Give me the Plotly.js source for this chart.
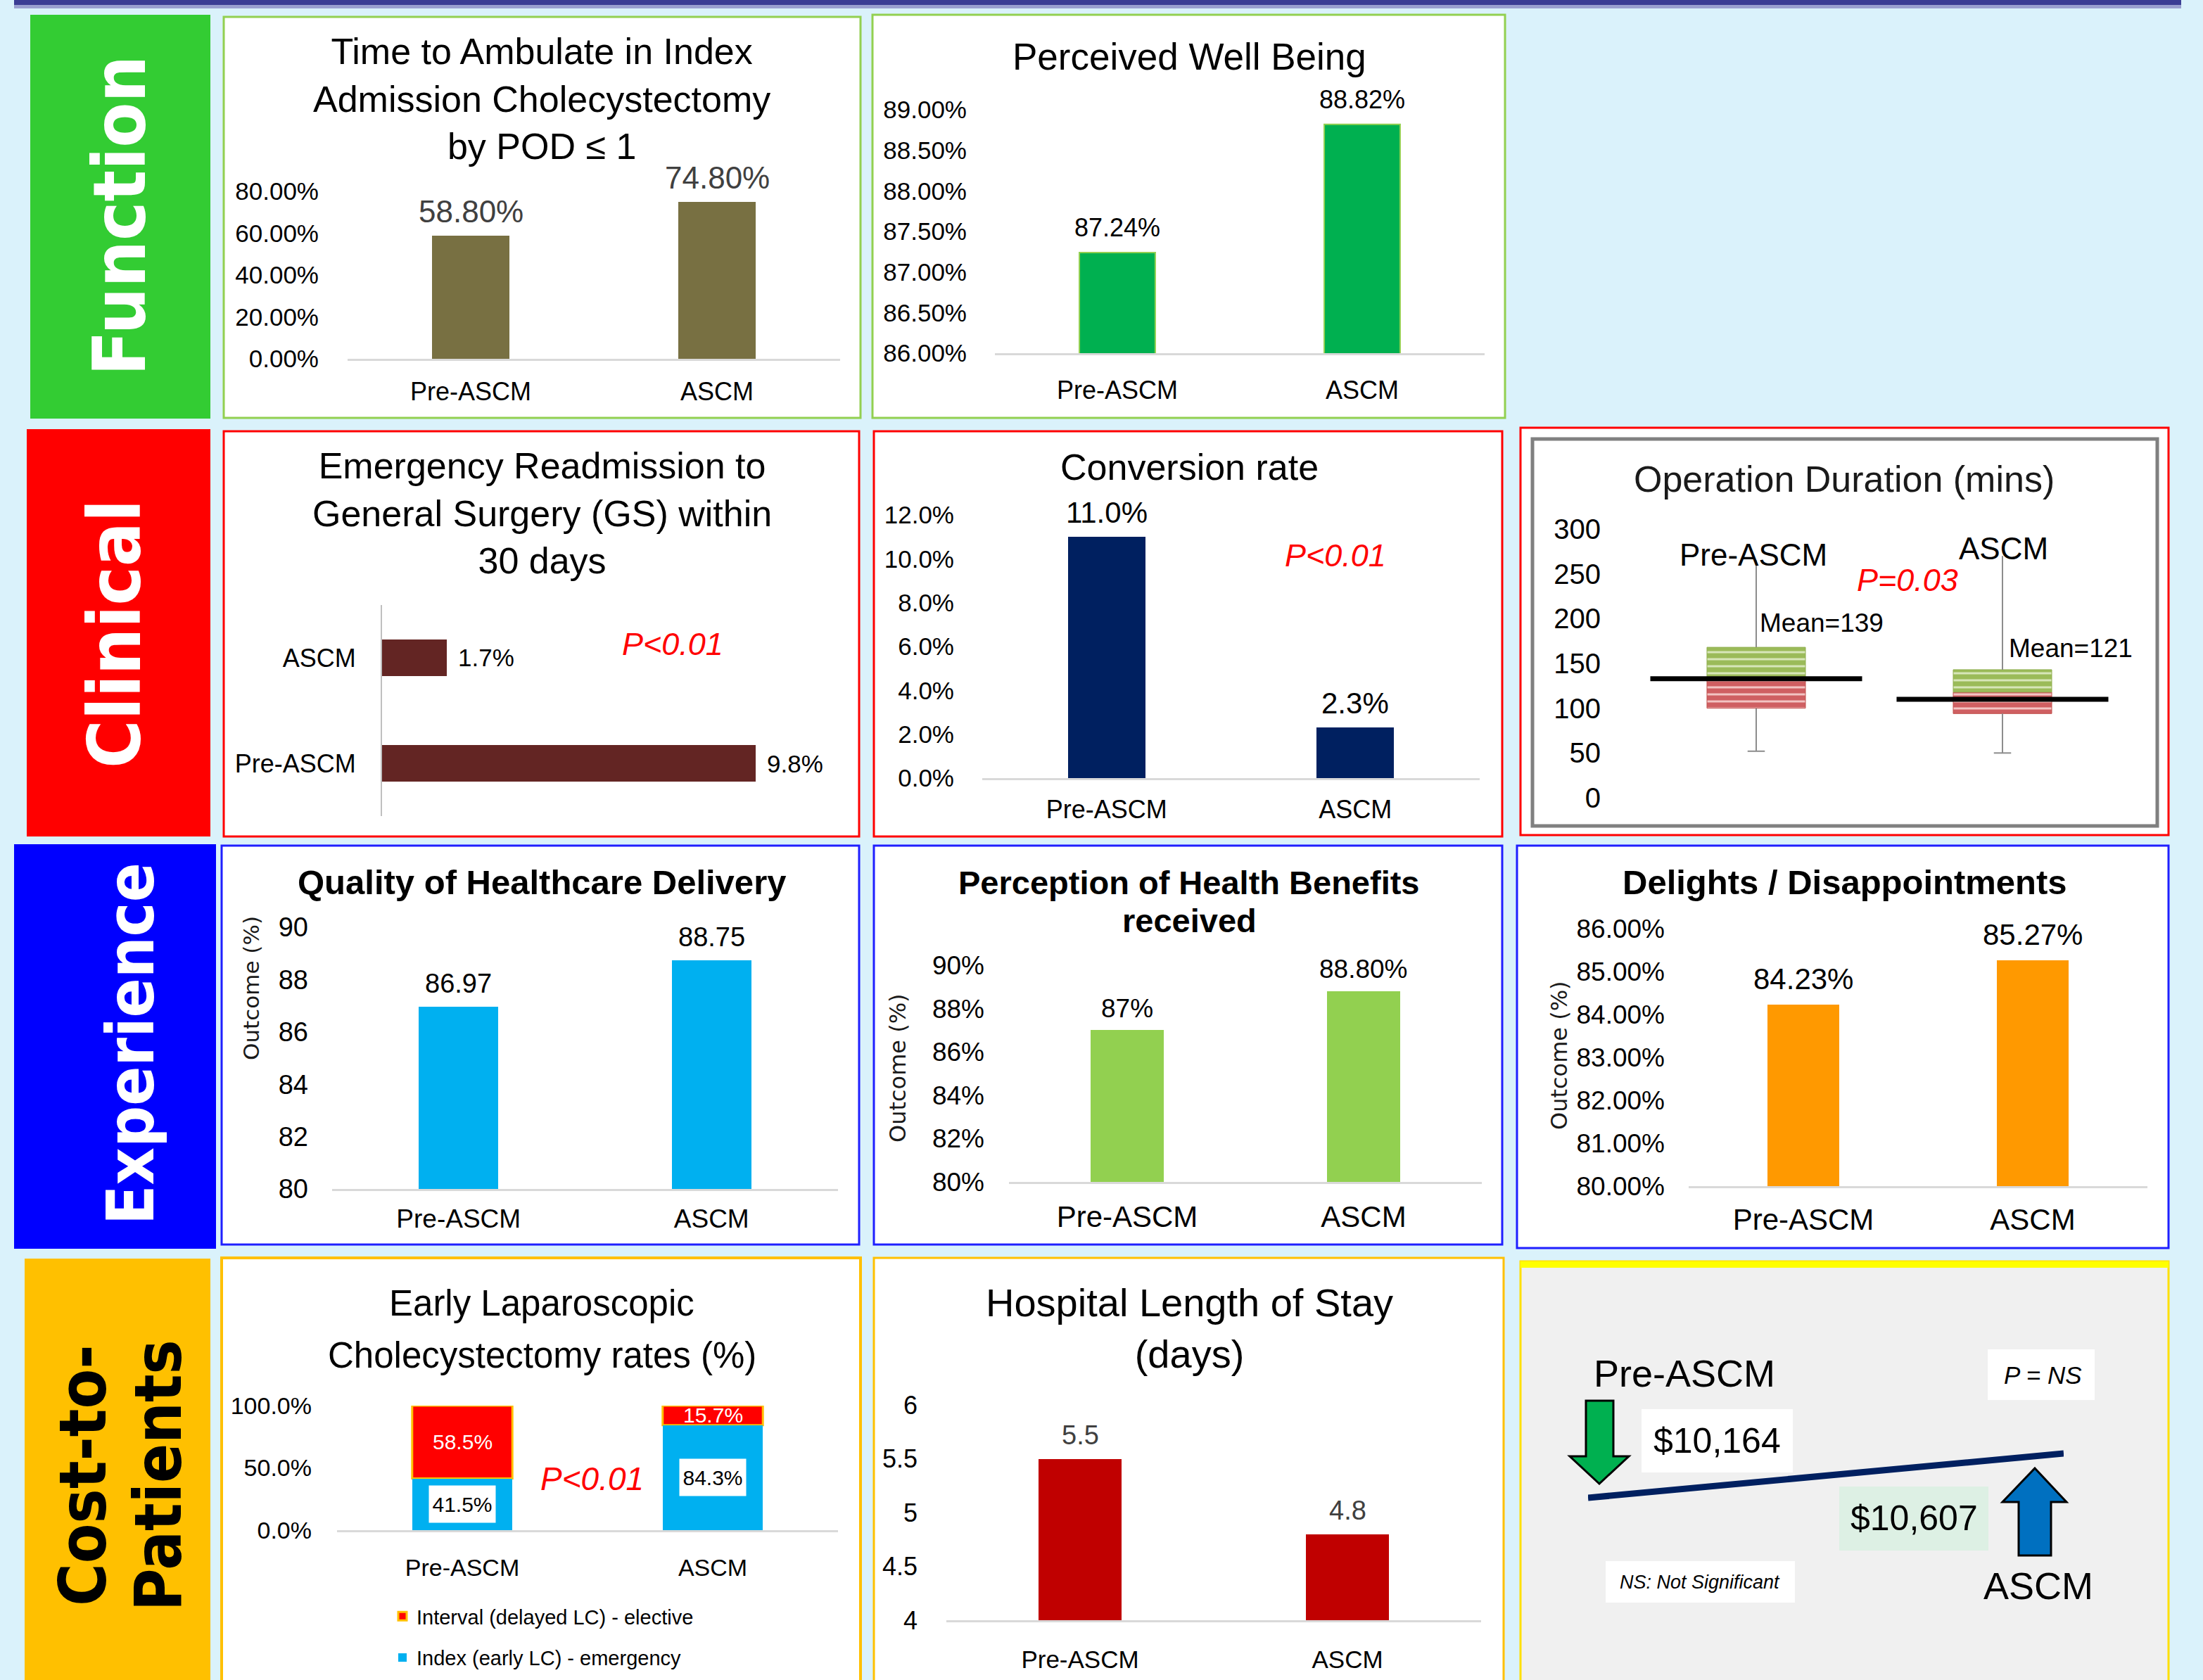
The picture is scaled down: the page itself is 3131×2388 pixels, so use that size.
<!DOCTYPE html>
<html><head><meta charset="utf-8">
<script src="https://cdn.plot.ly/plotly-3.0.1.min.js"></script>
<style>html,body{margin:0;padding:0;background:#daf2fb;} #chart{width:3131px;height:2388px;}</style>
</head><body><div id="chart"></div>
<script>
// ---------------- DATA ----------------
const groups = ['Pre-ASCM', 'ASCM'];
const ambulatePOD1 = [0.588, 0.748];
const ambulateTicks = [0, 0.2, 0.4, 0.6, 0.8];
const wellBeing = [0.8724, 0.8882];
const wellBeingTicks = [0.86, 0.865, 0.87, 0.875, 0.88, 0.885, 0.89];
const readmitGroups = ['Pre-ASCM', 'ASCM'];
const readmission = [0.098, 0.017];
const conversion = [0.110, 0.023];
const conversionTicks = [0, 0.02, 0.04, 0.06, 0.08, 0.10, 0.12];
const opLow = [52, 50];
const opQ1 = [100, 94];
const opSplit = [133, 118];
const opQ3 = [168, 143];
const opHigh = [265, 270];
const opMeanLine = [133, 110];
const opMeanLabel = [139, 121];
const opTicks = [0, 50, 100, 150, 200, 250, 300];
const qualityDelivery = [86.97, 88.75];
const qualityTicks = [80, 82, 84, 86, 88, 90];
const healthBenefits = [0.87, 0.888];
const healthLabels = ['87%', '88.80%'];
const healthTicks = [0.80, 0.82, 0.84, 0.86, 0.88, 0.90];
const delights = [0.8423, 0.8527];
const delightTicks = [0.80, 0.81, 0.82, 0.83, 0.84, 0.85, 0.86];
const indexEarly = [0.415, 0.843];
const intervalDelayed = [0.585, 0.157];
const lapTicks = [0, 0.5, 1.0];
const lengthOfStay = [5.5, 4.8];
const losTicks = [4, 4.5, 5, 5.5, 6];
const costPerPatient = [10164, 10607];
const costLabels = ['$10,164', '$10,607'];

// ---------------- HELPERS ----------------
const W = 3131, H = 2388;
const X = p => p / W, Y = p => 1 - p / H;
const ARIAL = "'Liberation Sans', Arial, sans-serif";
const NARROW = "'Liberation Sans Narrow', 'Arial Narrow', 'Liberation Sans', Arial, sans-serif";
const VERD = "'DejaVu Sans', Verdana, sans-serif";
const VERDC = "'DejaVu Sans Condensed', 'DejaVu Sans', Verdana, sans-serif";
const pct = d => v => (v * 100).toFixed(d) + '%';

const layout = {
  width: W, height: H, margin: {l: 0, r: 0, t: 0, b: 0},
  paper_bgcolor: '#daf2fb', plot_bgcolor: 'rgba(0,0,0,0)',
  barmode: 'overlay', bargap: 0, showlegend: true, hovermode: false,
  font: {family: ARIAL, color: '#000'},
  shapes: [], annotations: [],
  legend: {x: X(552), y: Y(2272), xanchor: 'left', yanchor: 'top', bgcolor: 'rgba(0,0,0,0)',
           font: {family: NARROW, size: 29, color: '#000'}, traceorder: 'grouped', tracegroupgap: 18}
};
const key = n => (n === 1 ? '' : String(n));

function catX(n, l, r, size, family, standoff) {
  layout['xaxis' + key(n)] = {domain: [X(l), X(r)], anchor: 'y' + key(n), type: 'category',
    range: [-0.5, 1.5], showgrid: false, zeroline: false, showline: true, linecolor: '#d9d9d9',
    linewidth: 3, ticks: '', tickfont: {family, size, color: '#000'}, ticklabelstandoff: standoff, fixedrange: true};
}
function valY(n, top, bottom, range, tickvals, tickformat, size, family, standoff, color) {
  layout['yaxis' + key(n)] = {domain: [Y(bottom), Y(top)], anchor: 'x' + key(n), range,
    tickvals, tickformat, showgrid: false, zeroline: false, showline: false, ticks: '',
    tickfont: {family, size, color: color || '#000'}, ticklabelstandoff: standoff, fixedrange: true};
}
function rect(x0, y0, x1, y1, fill, line, lw, layer) {
  layout.shapes.push({type: 'rect', xref: 'paper', yref: 'paper', x0: X(x0), x1: X(x1), y0: Y(y0), y1: Y(y1),
    fillcolor: fill, line: {color: line || 'rgba(0,0,0,0)', width: lw || 0}, layer: layer || 'below'});
}
function poly(pts, fill, line, lw) {
  const d = pts.map((p, i) => (i ? 'L' : 'M') + X(p[0]) + ',' + Y(p[1])).join(' ') + ' Z';
  layout.shapes.push({type: 'path', xref: 'paper', yref: 'paper', path: d, fillcolor: fill,
    line: {color: line, width: lw}, layer: 'above'});
}
function txt(text, x, y, size, opts) {
  const o = Object.assign({family: ARIAL, color: '#000', angle: 0, xanchor: 'center', weight: 'normal', style: 'normal'}, opts || {});
  layout.annotations.push({text, x: X(x), y: Y(y), xref: 'paper', yref: 'paper', showarrow: false,
    xanchor: o.xanchor, yanchor: 'middle', textangle: o.angle,
    font: {family: o.family, size, color: o.color, weight: o.weight, style: o.style}});
}
function dataLabels(n, xs, ys, texts, size, family, color, yshift) {
  xs.forEach((xv, i) => layout.annotations.push({text: texts[i], x: xv, y: ys[i], xref: 'x' + key(n), yref: 'y' + key(n),
    showarrow: false, xanchor: 'center', yanchor: 'middle', yshift, font: {family, size, color}}));
}

// ---------------- BACKGROUND / FRAMES ----------------
rect(20, 0, 3100, 7, '#3b3d94');
rect(20, 7, 3100, 12, '#9aa0cf');
rect(43, 21, 299, 595, '#33cc33');
rect(38, 610, 299, 1189, '#ff0000');
rect(20, 1200, 307, 1775, '#0000ff');
rect(35, 1789, 299, 2392, '#ffc000');
rect(318, 24, 1223, 594, '#ffffff', '#92d050', 3);
rect(1240, 21, 2139, 594, '#ffffff', '#92d050', 3);
rect(318, 613, 1221, 1189, '#ffffff', '#ff0000', 3);
rect(1242, 613, 2135, 1189, '#ffffff', '#ff0000', 3);
rect(2161, 608, 3082, 1187, '#ffffff', '#ff0000', 3);
rect(2178, 624, 3066, 1174, '#ffffff', '#808080', 5);
rect(315, 1202, 1221, 1769, '#ffffff', '#1f1fff', 3);
rect(1242, 1202, 2135, 1769, '#ffffff', '#1f1fff', 3);
rect(2156, 1202, 3082, 1774, '#ffffff', '#1f1fff', 3);
rect(315, 1788, 1223, 2395, '#ffffff', '#ffc000', 4);
rect(1242, 1788, 2137, 2395, '#ffffff', '#ffc000', 3);
rect(2161, 1793, 3082, 2395, '#f0f0f0', '#ffe000', 3);
rect(2161, 1793, 3082, 1802, '#ffff00');

txt('Function', 170, 307, 104, {family: VERDC, color: '#ffffff', angle: -90, weight: 'bold'});
txt('Clinical', 163, 901, 104, {family: VERDC, color: '#ffffff', angle: -90, weight: 'bold'});
txt('Experience', 186, 1484, 92, {family: VERDC, color: '#ffffff', angle: -90, weight: 'bold'});
txt('Cost-to-', 118, 2097, 92, {family: VERDC, color: '#000000', angle: -90, weight: 'bold'});
txt('Patients', 225, 2097, 92, {family: VERDC, color: '#000000', angle: -90, weight: 'bold'});

const traces = [];

// ---------------- 1: Time to ambulate ----------------
catX(1, 494, 1194, 36, ARIAL, 13);
valY(1, 272, 510, [0, 0.8], ambulateTicks, '.2%', 35, ARIAL, 40);
traces.push({type: 'bar', x: groups, y: ambulatePOD1, xaxis: 'x', yaxis: 'y', width: 0.314,
  marker: {color: '#787042'}, showlegend: false});
dataLabels(1, groups, ambulatePOD1, ambulatePOD1.map(pct(2)), 44, ARIAL, '#404040', 35);
txt('Time to Ambulate in Index<br>Admission Cholecystectomy<br>by POD ≤ 1', 770, 140, 52);

// ---------------- 2: Perceived well being ----------------
catX(2, 1414, 2110, 36, NARROW, 19);
valY(2, 156, 502, [0.86, 0.89], wellBeingTicks, '.2%', 35, NARROW, 39);
traces.push({type: 'bar', x: groups, y: wellBeing, xaxis: 'x2', yaxis: 'y2', width: 0.31,
  marker: {color: '#00b050', line: {color: '#92d050', width: 2}}, showlegend: false});
dataLabels(2, groups, wellBeing, wellBeing.map(pct(2)), 36, NARROW, '#000', 35);
txt('Perceived Well Being', 1690, 80, 53, {family: NARROW});

// ---------------- 3: Readmission ----------------
layout.xaxis3 = {domain: [X(543), X(1193)], anchor: 'y3', range: [0, 0.12], visible: false, fixedrange: true};
layout.yaxis3 = {domain: [Y(1160), Y(860)], anchor: 'x3', type: 'category', range: [-0.5, 1.5],
  showgrid: false, zeroline: false, showline: true, linecolor: '#bfbfbf', linewidth: 2, ticks: '',
  tickfont: {family: ARIAL, size: 36, color: '#000'}, ticklabelstandoff: 28, fixedrange: true};
traces.push({type: 'bar', orientation: 'h', x: readmission, y: readmitGroups, xaxis: 'x3', yaxis: 'y3', width: 0.35,
  marker: {color: '#632523'}, showlegend: false});
readmitGroups.forEach((g, i) => layout.annotations.push({text: pct(1)(readmission[i]), x: readmission[i], y: g,
  xref: 'x3', yref: 'y3', showarrow: false, xanchor: 'left', yanchor: 'middle', xshift: 14,
  font: {family: ARIAL, size: 35, color: '#000'}}));
txt('Emergency Readmission to<br>General Surgery (GS) within<br>30 days', 770, 730, 52);
txt('P<0.01', 956, 916, 45, {family: NARROW, color: '#ff0000', style: 'italic'});

// ---------------- 4: Conversion rate ----------------
catX(4, 1396, 2103, 36, ARIAL, 11);
valY(4, 732, 1106, [0, 0.12], conversionTicks, '.1%', 35, ARIAL, 39);
traces.push({type: 'bar', x: groups, y: conversion, xaxis: 'x4', yaxis: 'y4', width: 0.31,
  marker: {color: '#002060'}, showlegend: false});
dataLabels(4, groups, conversion, conversion.map(pct(1)), 42, ARIAL, '#000', 35);
txt('Conversion rate', 1690, 664, 52);
txt('P<0.01', 1898, 790, 45, {family: NARROW, color: '#ff0000', style: 'italic'});

// ---------------- 5: Operation duration ----------------
layout.xaxis5 = {domain: [X(2321), X(3021)], anchor: 'y5', range: [-0.5, 1.5], visible: false, fixedrange: true};
valY(5, 752, 1134, [0, 300], opTicks, 'd', 40, ARIAL, 45);
const pos = [0, 1];
{
  const wx = [], wy = [];
  pos.forEach((p, i) => {
    wx.push(p, p, null, p, p, null, p - 0.035, p + 0.035, null);
    wy.push(opLow[i], opQ1[i], null, opQ3[i], opHigh[i], null, opLow[i], opLow[i], null);
  });
  traces.push({type: 'scatter', mode: 'lines', x: wx, y: wy, xaxis: 'x5', yaxis: 'y5',
    line: {color: '#8c8c8c', width: 2}, showlegend: false});
}
traces.push({type: 'bar', x: pos, y: pos.map(i => opSplit[i] - opQ1[i]), base: opQ1, xaxis: 'x5', yaxis: 'y5', width: 0.4,
  marker: {color: '#cf5f62', line: {color: '#c0504d', width: 1},
    pattern: {shape: '-', bgcolor: '#cf5f62', fgcolor: '#f2c4c3', size: 10, solidity: 0.3}}, showlegend: false});
traces.push({type: 'bar', x: pos, y: pos.map(i => opQ3[i] - opSplit[i]), base: opSplit, xaxis: 'x5', yaxis: 'y5', width: 0.4,
  marker: {color: '#9bbb59', line: {color: '#8fae4f', width: 1},
    pattern: {shape: '-', bgcolor: '#9bbb59', fgcolor: '#d7e6b9', size: 10, solidity: 0.3}}, showlegend: false});
{
  const mx = [], my = [];
  pos.forEach((p, i) => { mx.push(p - 0.43, p + 0.43, null); my.push(opMeanLine[i], opMeanLine[i], null); });
  traces.push({type: 'scatter', mode: 'lines', x: mx, y: my, xaxis: 'x5', yaxis: 'y5',
    line: {color: '#000', width: 7}, showlegend: false});
}
txt('Operation Duration (mins)', 2621, 681, 52, {color: '#1a1a1a'});
txt('Pre-ASCM', 2492, 788, 44);
txt('ASCM', 2847, 780, 44);
txt('Mean=' + opMeanLabel[0], 2589, 885, 37, {family: NARROW});
txt('Mean=' + opMeanLabel[1], 2943, 921, 37, {family: NARROW});
txt('P=0.03', 2711, 824, 45, {family: NARROW, color: '#ff0000', style: 'italic'});

// ---------------- 6: Quality of healthcare ----------------
catX(6, 472, 1191, 37, ARIAL, 8);
valY(6, 1318, 1690, [80, 90], qualityTicks, 'd', 38, ARIAL, 33);
traces.push({type: 'bar', x: groups, y: qualityDelivery, xaxis: 'x6', yaxis: 'y6', width: 0.314,
  marker: {color: '#00b0f0'}, showlegend: false});
dataLabels(6, groups, qualityDelivery, qualityDelivery.map(v => v.toFixed(2)), 38, ARIAL, '#000', 33);
txt('Quality of Healthcare Delivery', 770, 1254, 49, {weight: 'bold'});
txt('Outcome (%)', 357, 1405, 31, {family: VERD, angle: -90, color: '#1a1a1a'});

// ---------------- 7: Health benefits ----------------
catX(7, 1434, 2106, 42, ARIAL, 11);
valY(7, 1372, 1680, [0.8, 0.9], healthTicks, '.0%', 37, ARIAL, 34);
traces.push({type: 'bar', x: groups, y: healthBenefits, xaxis: 'x7', yaxis: 'y7', width: 0.31,
  marker: {color: '#92d050'}, showlegend: false});
dataLabels(7, groups, healthBenefits, healthLabels, 37, ARIAL, '#000', 31);
txt('Perception of Health Benefits', 1690, 1254, 47, {weight: 'bold'});
txt('received', 1690, 1308, 47, {weight: 'bold'});
txt('Outcome (%)', 1276, 1518, 32, {family: VERD, angle: -90, color: '#1a1a1a'});

// ---------------- 8: Delights ----------------
catX(8, 2400, 3052, 42, ARIAL, 9);
valY(8, 1320, 1686, [0.8, 0.86], delightTicks, '.2%', 37, ARIAL, 33);
traces.push({type: 'bar', x: groups, y: delights, xaxis: 'x8', yaxis: 'y8', width: 0.31,
  marker: {color: '#ff9900'}, showlegend: false});
dataLabels(8, groups, delights, delights.map(pct(2)), 42, ARIAL, '#000', 36);
txt('Delights / Disappointments', 2622, 1254, 49, {weight: 'bold'});
txt('Outcome (%)', 2216, 1500, 32, {family: VERD, angle: -90, color: '#1a1a1a'});

// ---------------- 9: Early LC ----------------
catX(9, 479, 1191, 34, NARROW, 21);
valY(9, 1998, 2175, [0, 1], lapTicks, '.1%', 34, NARROW, 35);
traces.push({type: 'bar', name: 'Interval (delayed LC) - elective', legendgroup: 'a', x: groups, y: intervalDelayed, base: indexEarly,
  xaxis: 'x9', yaxis: 'y9', width: 0.4, marker: {color: '#ff0000', line: {color: '#ffc000', width: 3}}, showlegend: true});
traces.push({type: 'bar', name: 'Index (early LC) - emergency', legendgroup: 'b', x: groups, y: indexEarly,
  xaxis: 'x9', yaxis: 'y9', width: 0.4, marker: {color: '#00b0f0'}, showlegend: true});
groups.forEach((g, i) => {
  layout.annotations.push({text: pct(1)(indexEarly[i]), x: g, y: indexEarly[i] / 2, xref: 'x9', yref: 'y9',
    showarrow: false, bgcolor: '#ffffff', width: 92, height: 50, font: {family: NARROW, size: 30, color: '#000'}});
  layout.annotations.push({text: pct(1)(intervalDelayed[i]), x: g, y: indexEarly[i] + intervalDelayed[i] / 2, xref: 'x9', yref: 'y9',
    showarrow: false, font: {family: NARROW, size: 30, color: '#ffffff'}});
});
txt('Early Laparoscopic', 770, 1852, 51, {family: NARROW});
txt('Cholecystectomy rates (%)', 770, 1926, 51, {family: NARROW});
txt('P<0.01', 842, 2102, 46, {family: NARROW, color: '#ff0000', style: 'italic'});

// ---------------- 10: Length of stay ----------------
catX(10, 1345, 2105, 35, NARROW, 23);
valY(10, 1997, 2303, [4, 6], losTicks, '', 36, NARROW, 40);
traces.push({type: 'bar', x: groups, y: lengthOfStay, xaxis: 'x10', yaxis: 'y10', width: 0.31,
  marker: {color: '#c00000'}, showlegend: false});
dataLabels(10, groups, lengthOfStay, lengthOfStay.map(v => v.toFixed(1)), 38, NARROW, '#404040', 34);
txt('Hospital Length of Stay<br>(days)', 1690, 1888, 56, {family: NARROW});

// ---------------- 11: Cost ----------------
layout.xaxis11 = {domain: [X(2257), X(2933)], anchor: 'y11', range: [0, 1], visible: false, fixedrange: true};
layout.yaxis11 = {domain: [Y(2300), Y(1900)], anchor: 'x11', range: [8962, 11774], visible: false, fixedrange: true};
traces.push({type: 'scatter', mode: 'lines', x: [0, 1], y: costPerPatient, xaxis: 'x11', yaxis: 'y11',
  line: {color: '#002060', width: 9}, showlegend: false});
rect(2333, 2003, 2548, 2093, '#ffffff', null, 0, 'above');
rect(2614, 2113, 2826, 2204, '#ddf0e4', null, 0, 'above');
rect(2825, 1918, 2977, 1990, '#ffffff', null, 0, 'above');
rect(2282, 2219, 2551, 2278, '#ffffff', null, 0, 'above');
poly([[2254, 1991], [2293, 1991], [2293, 2070], [2315, 2070], [2273, 2109], [2231, 2070], [2254, 2070]], '#00b050', '#000', 3);
poly([[2892, 2087], [2937, 2135], [2915, 2135], [2915, 2211], [2869, 2211], [2869, 2135], [2846, 2135]], '#0070c0', '#000', 3);
txt('Pre-ASCM', 2394, 1952, 54, {family: NARROW});
txt('ASCM', 2897, 2254, 54, {family: NARROW});
txt(costLabels[0], 2440, 2048, 50, {family: NARROW});
txt(costLabels[1], 2720, 2158, 50, {family: NARROW});
txt('P = NS', 2903, 1954, 35, {family: NARROW, style: 'italic'});
txt('NS: Not Significant', 2416, 2249, 27, {family: NARROW, style: 'italic'});

Plotly.newPlot('chart', traces, layout, {staticPlot: true, displayModeBar: false});
</script>
</body></html>
